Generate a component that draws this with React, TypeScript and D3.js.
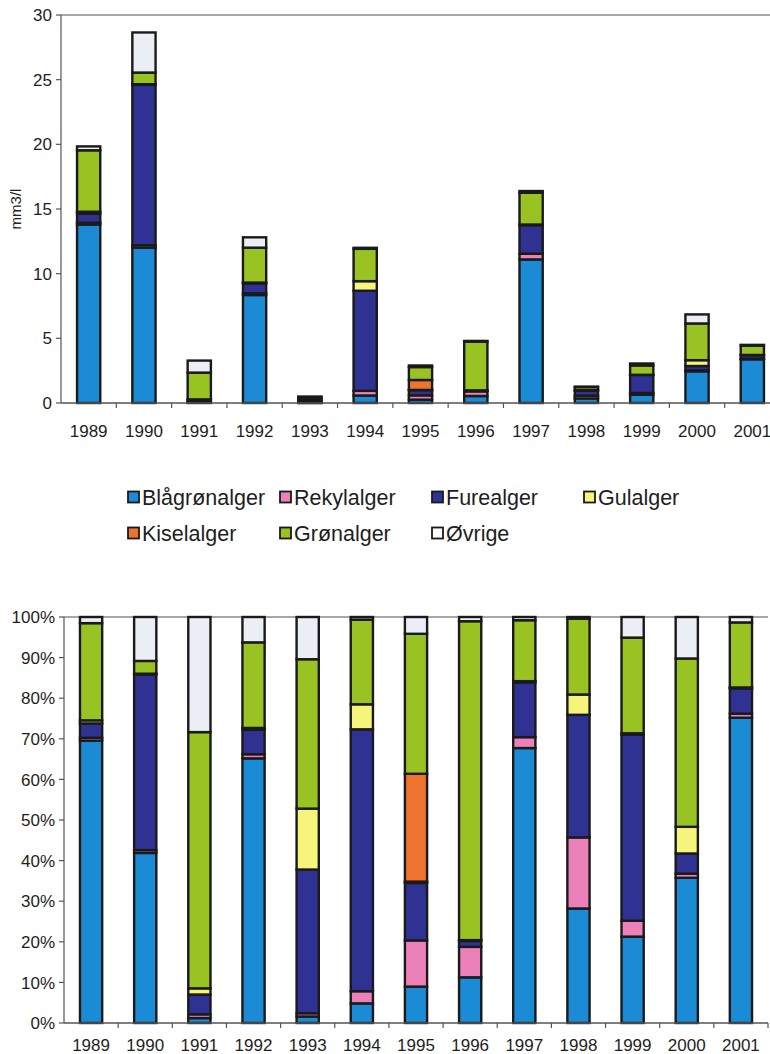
import React from "react";
import * as d3 from "d3";

const years = ["1989","1990","1991","1992","1993","1994","1995","1996","1997","1998","1999","2000","2001"];
const seriesNames = ["Blågrønalger","Rekylalger","Furealger","Gulalger","Kiselalger","Grønalger","Øvrige"];
const seriesColors = ["#1b8bd6","#ec80b8","#2f3293","#f7f47c","#ee7330","#98c322","#eceef6"];

const blagronalger = [13.8, 12.0, 0.04, 8.35, 0.008, 0.58, 0.26, 0.54, 11.1, 0.353, 0.65, 2.45, 3.38];
const rekylalger   = [0.14, 0.2, 0.03, 0.13, 0.004, 0.36, 0.33, 0.36, 0.44, 0.219, 0.12, 0.07, 0.045];
const furealger    = [0.7, 12.4, 0.16, 0.77, 0.177, 7.74, 0.41, 0.07, 2.21, 0.378, 1.4, 0.34, 0.28];
const gulalger     = [0.15, 0.05, 0.05, 0.06, 0.075, 0.74, 0.01, 0.01, 0.05, 0.0625, 0.01, 0.45, 0.01];
const kiselalger   = [0, 0, 0, 0, 0, 0, 0.77, 0, 0, 0, 0, 0, 0];
const gronalger    = [4.75, 0.9, 2.07, 2.7, 0.184, 2.5, 1.0, 3.77, 2.46, 0.234, 0.72, 2.84, 0.72];
const ovrige       = [0.3, 3.1, 0.93, 0.8, 0.052, 0.08, 0.12, 0.05, 0.13, 0.005, 0.155, 0.7, 0.06];

const topTicks = [0, 5, 10, 15, 20, 25, 30];
const pctTicks = [0, 0.1, 0.2, 0.3, 0.4, 0.5, 0.6, 0.7, 0.8, 0.9, 1.0];
const yTitle = "mm3/l";

const seriesValues = [blagronalger, rekylalger, furealger, gulalger, kiselalger, gronalger, ovrige];
const rows = years.map((y, i) => {
  const r: any = { year: y };
  seriesNames.forEach((s, k) => (r[s] = seriesValues[k][i]));
  return r;
});

const FONT = "'Liberation Sans', Arial, sans-serif";
const TXT = "#1e1e1e";

function StackChart(props: { top: number; bottom: number; left: number; right: number; percent: boolean; labelBaseline: number; barW: number }) {
  const { top, bottom, left, right, percent, labelBaseline } = props;
  const stackGen = d3.stack().keys(seriesNames);
  if (percent) stackGen.offset(d3.stackOffsetExpand);
  const stacked = stackGen(rows as any);
  const x = d3.scaleBand().domain(years).range([left, right]).paddingInner(1 - props.barW).paddingOuter((1 - props.barW) / 2);
  const step = x.step();
  const y = d3.scaleLinear().domain(percent ? [0, 1] : [0, 30]).range([bottom, top]);
  const ticks = percent ? pctTicks : topTicks;
  const fmt = percent ? d3.format(".0%") : d3.format("d");
  return (
    <g>
      <line x1={left} x2={right} y1={top} y2={top} stroke="#8a8a8a" strokeWidth={1.3} />
      {stacked.map((layer, k) => (
        <g key={k}>
          {layer.map((d, i) => {
            const h = y(d[0]) - y(d[1]);
            if (!(h > 0.05)) return null;
            return (
              <rect key={i} x={x(years[i])!} y={y(d[1])} width={x.bandwidth()} height={h}
                fill={seriesColors[k]} stroke="#1a1a1a" strokeWidth={2.4} />
            );
          })}
        </g>
      ))}
      <line x1={left} x2={left} y1={top} y2={bottom} stroke="#555" strokeWidth={1.2} />
      <line x1={left} x2={right} y1={bottom} y2={bottom} stroke="#555" strokeWidth={1.3} />
      {ticks.map((t) => (
        <g key={t}>
          <line x1={left - 5} x2={left} y1={y(t)} y2={y(t)} stroke="#555" strokeWidth={1.2} />
          <text x={left - 9} y={y(t)} dy="0.36em" textAnchor="end" fontSize={17} fill={TXT} fontFamily={FONT}>{fmt(t)}</text>
        </g>
      ))}
      {years.map((yr, i) => (
        <g key={yr}>
          <line x1={left + step * (i + 1)} x2={left + step * (i + 1)} y1={bottom} y2={bottom + 5} stroke="#555" strokeWidth={1.2} />
          <text x={x(yr)! + x.bandwidth() / 2} y={labelBaseline} textAnchor="middle" fontSize={17} fill={TXT} fontFamily={FONT}>{yr}</text>
        </g>
      ))}
    </g>
  );
}

const legendCols = [128, 280, 432, 584];
const legendRows = [497, 533];

export default function App() {
  return (
    <div style={{ position: "absolute", left: 0, top: 0 }}>
      <svg width={770} height={1054} style={{ display: "block", background: "#fff" }}>
        <StackChart top={15} bottom={403} left={61} right={780} percent={false} labelBaseline={437} barW={0.42} />
        <text transform={`translate(21,209) rotate(-90)`} textAnchor="middle" fontSize={15} fill={TXT} fontFamily={FONT}>{yTitle}</text>
        {seriesNames.map((s, k) => {
          const col = k < 4 ? k : k - 4;
          const row = k < 4 ? 0 : 1;
          const lx = legendCols[col];
          const ly = legendRows[row];
          return (
            <g key={s}>
              <rect x={lx} y={ly - 5.5} width={11} height={11} fill={k === 6 ? "#ffffff" : seriesColors[k]} stroke="#1a1a1a" strokeWidth={1.8} />
              <text x={lx + 14} y={ly} dy="0.36em" fontSize={21.5} fill={TXT} fontFamily={FONT}>{s}</text>
            </g>
          );
        })}
        <StackChart top={617} bottom={1023} left={64} right={768} percent={true} labelBaseline={1051} barW={0.41} />
      </svg>
    </div>
  );
}
